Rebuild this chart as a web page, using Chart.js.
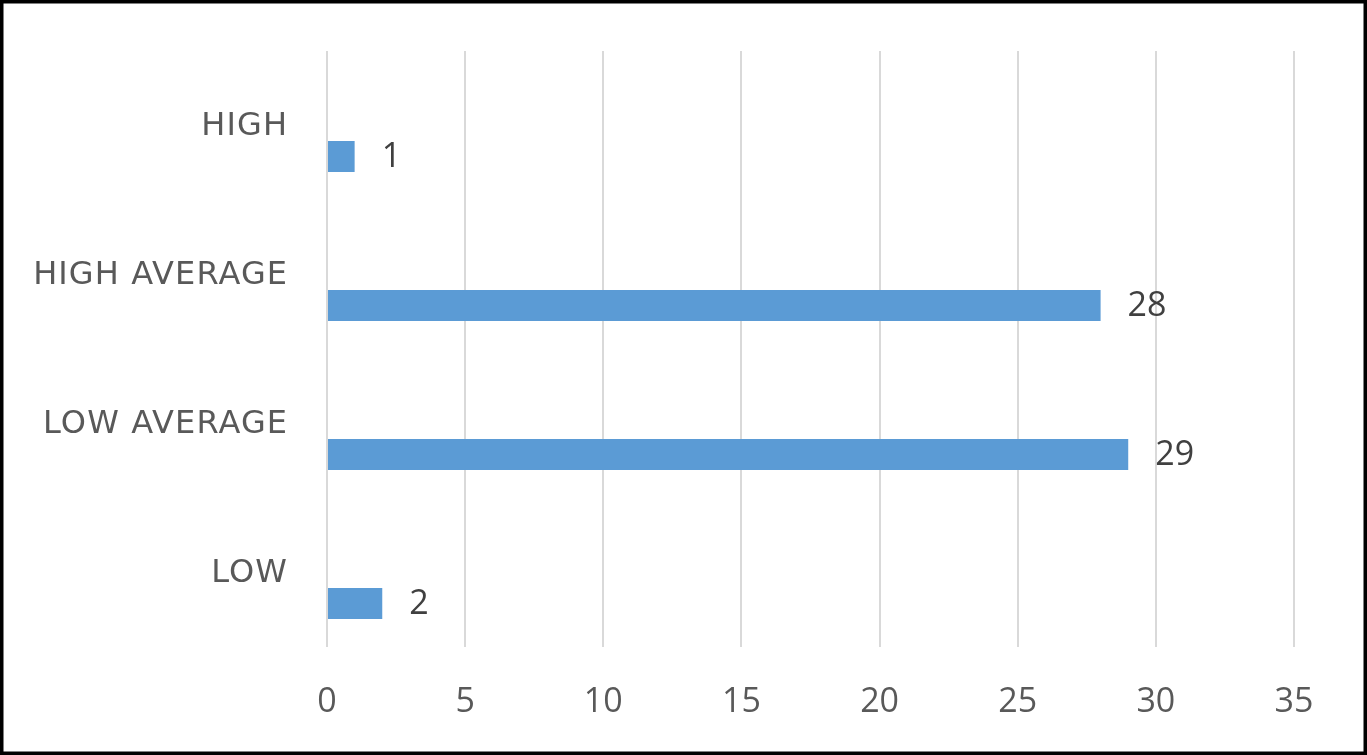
<!DOCTYPE html>
<html>
<head>
<meta charset="utf-8">
<script src="https://cdn.jsdelivr.net/npm/chart.js@4.4.1/dist/chart.umd.min.js"></script>
<style>
html,body{margin:0;padding:0;background:#fff;}
#wrap{width:1367px;height:755px;position:relative;}
canvas{display:block;}
</style>
</head>
<body>
<div id="wrap"><canvas id="c" width="1367" height="755"></canvas></div>
<script>
// ---- data ----
const categories = ['HIGH', 'HIGH AVERAGE', 'LOW AVERAGE', 'LOW'];
const counts = [1, 28, 29, 2];
const emptySeriesA = [null, null, null, null];
const emptySeriesB = [null, null, null, null];
const xMin = 0, xMax = 35, xStep = 5;

const barColor = '#5B9BD5';

const categoryLabels = {
  id: 'categoryLabels',
  afterDraw(chart) {
    const ctx = chart.ctx;
    const y = chart.scales.y;
    const ls = 1.1;
    ctx.save();
    ctx.font = '32px "DejaVu Sans"';
    ctx.fillStyle = '#595959';
    ctx.textAlign = 'right';
    ctx.textBaseline = 'middle';
    if ('letterSpacing' in ctx) ctx.letterSpacing = ls + 'px';
    chart.data.labels.forEach((lab, i) => {
      ctx.fillText(lab, chart.chartArea.left - 40 + ls, y.getPixelForTick(i) + 1);
    });
    ctx.restore();
  }
};

const valueLabels = {
  id: 'valueLabels',
  afterDatasetsDraw(chart) {
    const ctx = chart.ctx;
    const meta = chart.getDatasetMeta(2);
    ctx.save();
    ctx.font = '34px "Open Sans"';
    ctx.fillStyle = '#404040';
    ctx.textAlign = 'left';
    ctx.textBaseline = 'middle';
    meta.data.forEach((bar, i) => {
      const v = chart.data.datasets[2].data[i];
      ctx.fillText(String(v), bar.x + 27, bar.y + 1);
    });
    ctx.restore();
  }
};

const frame = {
  id: 'frame',
  afterDraw(chart) {
    const ctx = chart.ctx;
    ctx.save();
    ctx.strokeStyle = '#000';
    ctx.lineWidth = 4;
    ctx.strokeRect(1.5, 1.5, chart.width - 3, chart.height - 3);
    ctx.restore();
  }
};

new Chart(document.getElementById('c'), {
  type: 'bar',
  data: {
    labels: categories,
    datasets: [
      { data: emptySeriesA, backgroundColor: barColor },
      { data: emptySeriesB, backgroundColor: barColor },
      { data: counts, backgroundColor: barColor }
    ]
  },
  options: {
    indexAxis: 'y',
    responsive: false,
    animation: false,
    categoryPercentage: 0.624,
    barPercentage: 1.0,
    layout: { padding: { top: 51, right: 73, left: 0, bottom: 0 } },
    plugins: { legend: { display: false }, tooltip: { enabled: false } },
    scales: {
      x: {
        min: xMin, max: xMax,
        ticks: { stepSize: xStep, color: '#595959', font: { family: 'Open Sans', size: 34 }, padding: 35 },
        grid: { color: '#d9d9d9', lineWidth: 2, drawTicks: false },
        border: { display: false },
        afterFit(s) { s.height = 108; }
      },
      y: {
        ticks: { display: false },
        grid: { display: false, drawTicks: false },
        border: { display: false },
        afterFit(s) { s.width = 327; }
      }
    }
  },
  plugins: [categoryLabels, valueLabels, frame]
});
</script>
</body>
</html>
